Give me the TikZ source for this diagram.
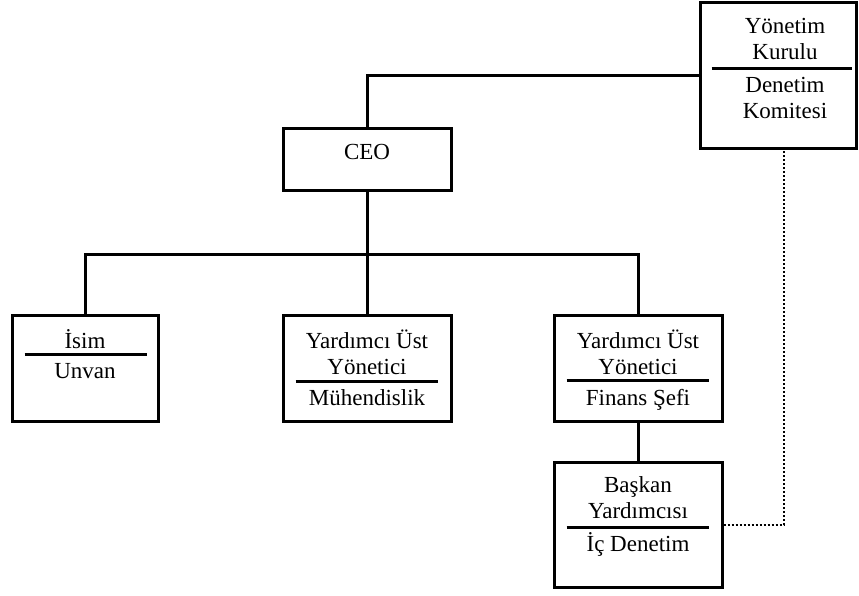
\documentclass[tikz,border=0pt]{standalone}
\usepackage{fontspec}
\setmainfont{Liberation Serif}
\usetikzlibrary{calc}
\tikzset{
  unit/.style={ % Sets the properties for each box
    draw,
    line width=3pt,
    inner sep=0pt,
    minimum width=168pt,
    minimum height=106pt},
  title/.style={ % Text inside the boxes
    align=center,
    inner sep=0pt,
    font=\fontsize{23}{26}\selectfont},
  link/.style={draw, line width=3pt}, % Solid reporting lines
  audit/.style={draw, line width=2pt, dotted}} % Dotted reporting line

\begin{document}
\begin{tikzpicture}[x=1pt, y=-1pt]
  \useasboundingbox (0,0) rectangle (859,595);
  \node[unit, minimum width=156pt, minimum height=146pt] (board) at (778,75) {};
  \node[unit, minimum height=62pt] (ceo) at (367,159) {};
  \node[unit, minimum width=146pt] (name) at (85,368) {};
  \node[unit] (eng) at (367,368) {};
  \node[unit] (fin) at (638,368) {};
  \node[unit, minimum height=125pt] (vp) at (638,524.5) {};

  \node[title] (board top) at (785,41.3) {\strut Yönetim\\\strut Kurulu};
  \node[title] (board bottom) at (785,99.8) {\strut Denetim\\\strut Komitesi};
  \node[title] (ceo text) at (367,153.8) {\strut CEO};
  \node[title] (name top) at (85,342.8) {\strut İsim};
  \node[title] (name bottom) at (85,372.8) {\strut Unvan};
  \node[title] (eng top) at (367,356.3) {\strut Yardımcı Üst\\\strut Yönetici};
  \node[title] (eng bottom) at (367,399.8) {\strut Mühendislik};
  \node[title] (fin top) at (638,356.3) {\strut Yardımcı Üst\\\strut Yönetici};
  \node[title] (fin bottom) at (638,399.8) {\strut Finans Şefi};
  \node[title] (vp top) at (638,500.3) {\strut Başkan\\\strut Yardımcısı};
  \node[title] (vp bottom) at (638,545.8) {\strut İç Denetim};

  % separators
  \draw[link] ($(board.north west)+(13,68)$) -- ($(board.north east)+(-6,68)$);
  \draw[link] ($(name.north west)+(14,41)$) -- ($(name.north east)+(-13,41)$);
  \draw[link] ($(eng.north west)+(14,68)$) -- ($(eng.north east)+(-15,68)$);
  \draw[link] ($(fin.north west)+(14,67)$) -- ($(fin.north east)+(-15,67)$);
  \draw[link] ($(vp.north west)+(14,67)$) -- ($(vp.north east)+(-15,67)$);

  % reporting lines
  \coordinate (bus) at (367,254);
  \draw[link] (board.west) -| (ceo.north);
  \draw[link] (ceo.south) -- (eng.north);
  \draw[link] (name.north) |- (bus) -| (fin.north);
  \draw[link] (fin.south) -- (vp.north);
  \draw[audit] (vp.east) -| ([xshift=6pt]board.south);
\end{tikzpicture}
\end{document}
